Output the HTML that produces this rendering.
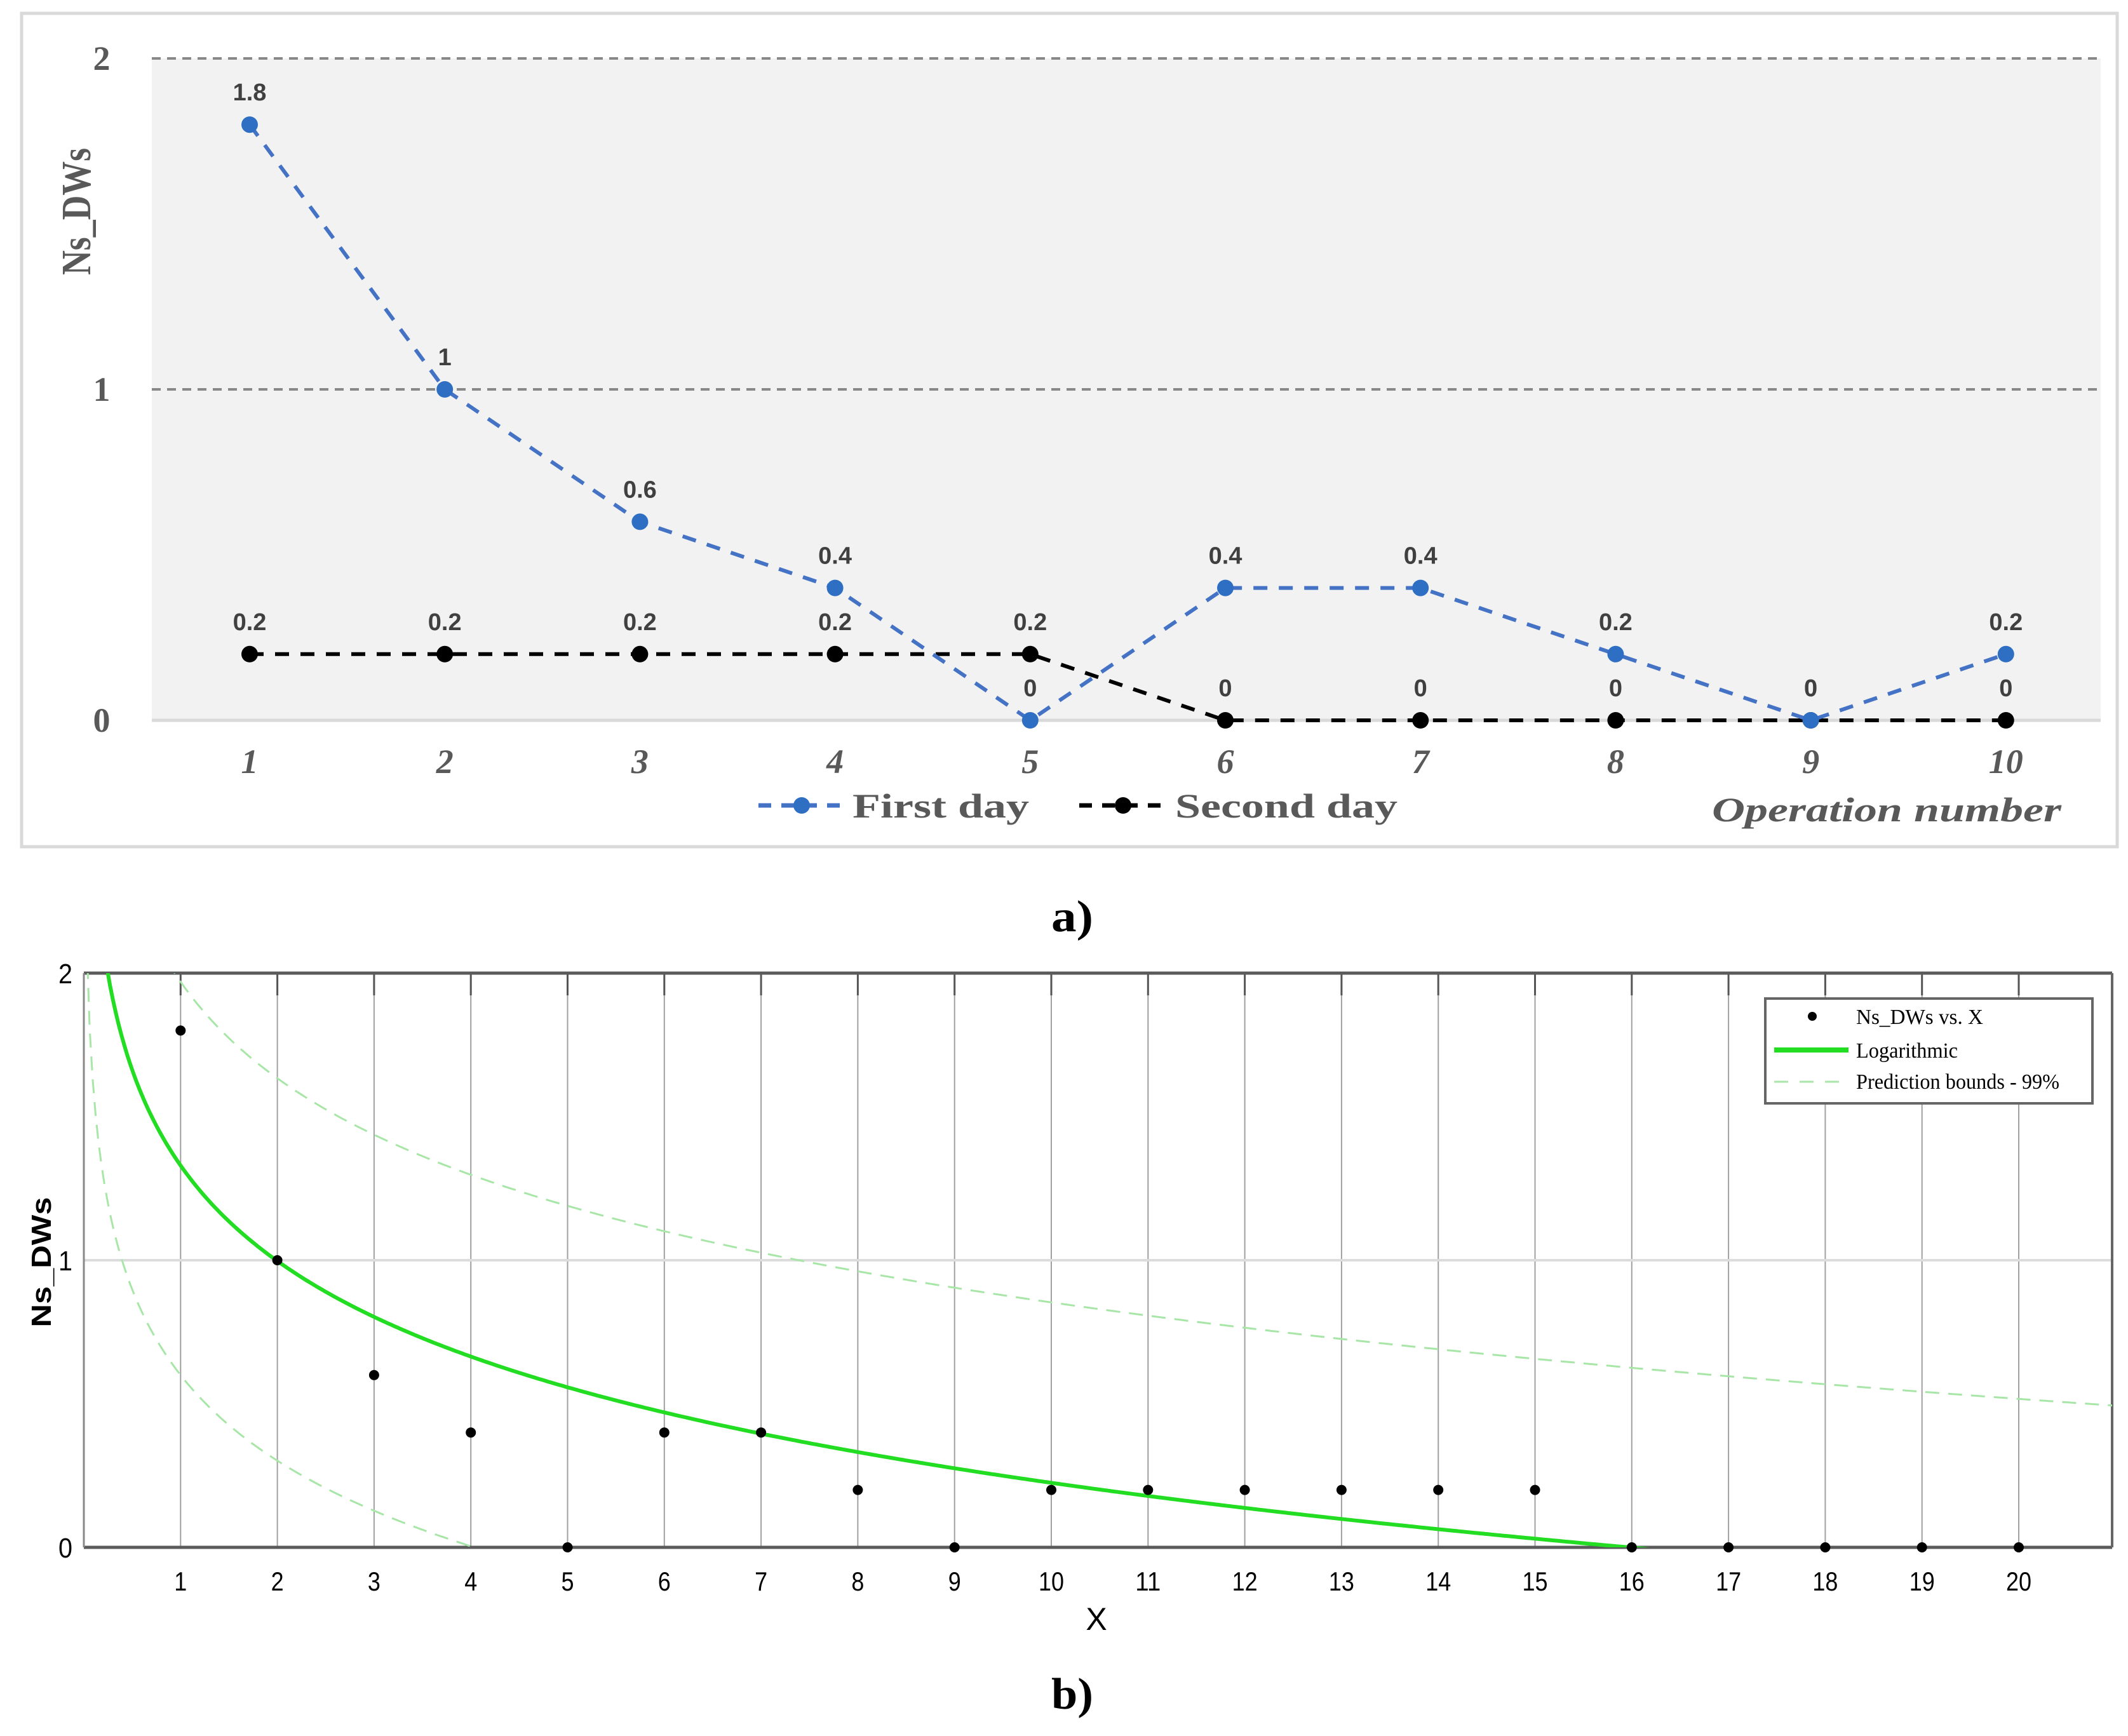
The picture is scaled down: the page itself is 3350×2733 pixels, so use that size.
<!DOCTYPE html>
<html><head><meta charset="utf-8"><style>
html,body{margin:0;padding:0;background:#fff;}
svg{display:block;}
</style></head><body>
<svg id="fig" width="3350" height="2733" viewBox="0 0 3350 2733" xmlns="http://www.w3.org/2000/svg">
  <!-- Panel a -->
  <g id="panelA">
    <rect x="34" y="21" width="3299" height="1312" fill="#fff" stroke="#d9d9d9" stroke-width="5"/>
    <rect x="239" y="92" width="3068" height="1042" fill="#f2f2f2"/>
    <text x="0" y="0" transform="translate(142,333) rotate(-90)" text-anchor="middle" font-family="Liberation Serif, serif" font-weight="bold" font-size="66" fill="#595959" textLength="200" lengthAdjust="spacingAndGlyphs">Ns_DWs</text>
    <text x="2970" y="1293" text-anchor="middle" font-family="Liberation Serif, serif" font-style="italic" font-weight="bold" font-size="54" fill="#595959" textLength="550" lengthAdjust="spacingAndGlyphs">Operation number</text>
    <g>
      <g>
        <line x1="1194" y1="1268" x2="1331" y2="1268" stroke="#4472c4" stroke-width="7" stroke-dasharray="20,16"/>
        <circle cx="1262" cy="1268" r="13" fill="#2e6fc4"/>
        <text x="1342" y="1287" font-family="Liberation Serif, serif" font-weight="bold" font-size="54" fill="#595959" textLength="278" lengthAdjust="spacingAndGlyphs">First day</text>
      </g>
      <g>
        <line x1="1699" y1="1268" x2="1836" y2="1268" stroke="#000" stroke-width="7" stroke-dasharray="20,16"/>
        <circle cx="1768" cy="1268" r="13" fill="#000"/>
        <text x="1850" y="1287" font-family="Liberation Serif, serif" font-weight="bold" font-size="54" fill="#595959" textLength="350" lengthAdjust="spacingAndGlyphs">Second day</text>
      </g>
    </g>
  </g>
  <text x="1688" y="1466" text-anchor="middle" font-family="Liberation Serif, serif" font-weight="bold" font-size="70" fill="#000" textLength="66" lengthAdjust="spacingAndGlyphs">a)</text>

  <!-- Panel b -->
  <g id="panelB">
    <rect x="132" y="1532" width="3193" height="904" fill="#fff"/>
    <text x="0" y="0" transform="translate(80,1987) rotate(-90)" text-anchor="middle" font-family="Liberation Sans, sans-serif" font-weight="bold" font-size="44" fill="#000" textLength="205" lengthAdjust="spacingAndGlyphs">Ns_DWs</text>
    <text x="1726" y="2566" text-anchor="middle" font-family="Liberation Sans, sans-serif" font-size="50" fill="#000">X</text>
  </g>
  <text x="1688" y="2690" text-anchor="middle" font-family="Liberation Serif, serif" font-weight="bold" font-size="70" fill="#000" textLength="66" lengthAdjust="spacingAndGlyphs">b)</text>
</svg>
<script>
// ---- Panel a data ----
const catsA = [1,2,3,4,5,6,7,8,9,10];
const firstDay = [1.8,1,0.6,0.4,0,0.4,0.4,0.2,0,0.2];
const secondDay = [0.2,0.2,0.2,0.2,0.2,0,0,0,0,0];
const yTicksA = [0,1,2];
// ---- Panel b data ----
const catsB = [1,2,3,4,5,6,7,8,9,10,11,12,13,14,15,16,17,18,19,20];
const obsB = [1.8,1,0.6,0.4,0,0.4,0.4,0.2,0,0.2,0.2,0.2,0.2,0.2,0.2,0,0,0,0,0];
const yTicksB = [0,1,2];
const fitCoef = [1.33,0.48];     // y = a - b*ln(x)
const upperCoef = [1.97,0.485];
const lowerCoef = [0.60,0.43];

const NS='http://www.w3.org/2000/svg';
const svg=document.getElementById('fig');
const gA=document.getElementById('panelA');
const gB=document.getElementById('panelB');
function mk(tag,attrs,parent){const e=document.createElementNS(NS,tag);for(const k in attrs)e.setAttribute(k,attrs[k]);(parent||svg).appendChild(e);return e;}

// Axis functions a
const xA=i=>393+(i-1)*307.2;
const yA=v=>1134-v*521;
yTicksA.forEach(t=>{
  let l;
  if(t===0){l=mk('line',{x1:239,x2:3307,y1:yA(t),y2:yA(t),stroke:'#d9d9d9','stroke-width':5},gA);}
  else{l=mk('line',{x1:239,x2:3307,y1:yA(t),y2:yA(t),stroke:'#888','stroke-width':4,'stroke-dasharray':'14,10'},gA);}
  
  
  const tx=mk('text',{x:160,y:yA(t)+18,'text-anchor':'middle','font-family':'Liberation Serif, serif','font-weight':'bold','font-size':54,fill:'#595959'},gA);
  tx.textContent=t;
  
  
});
catsA.forEach(c=>{
  const tx=mk('text',{x:xA(c),y:1217,'text-anchor':'middle','font-family':'Liberation Serif, serif','font-style':'italic','font-weight':'bold','font-size':54,fill:'#595959'},gA);
  tx.textContent=c;
  
  
});
function series(vals,color,mcolor,name){
  const pts=vals.map((v,i)=>xA(catsA[i])+','+yA(v)).join(' ');
  const pl=mk('polyline',{points:pts,fill:'none',stroke:color,'stroke-width':6,'stroke-dasharray':'22,18'},gA);
  
  
  vals.forEach((v,i)=>{
    const c=mk('circle',{cx:xA(catsA[i]),cy:yA(v),r:13,fill:mcolor},gA);
    
    
    const t=mk('text',{x:xA(catsA[i]),y:yA(v)-38,'text-anchor':'middle','font-family':'Liberation Sans, sans-serif','font-weight':'bold','font-size':38,fill:'#404040'},gA);
    t.textContent=v;
    
    
  });
}
series(secondDay,'#000','#000','second-day');
series(firstDay,'#4472c4','#2e6fc4','first-day');

// Axis functions b
const X0=132,X1=3325,Y0=2436,Y1=1532;
const xB=x=>132+x*152.3;
const yB=v=>2436-v*452;
catsB.forEach(c=>{
  const l=mk('line',{x1:xB(c),x2:xB(c),y1:Y1,y2:Y0,stroke:'#a0a0a0','stroke-width':2},gB);
  
  
  const tk=mk('line',{x1:xB(c),x2:xB(c),y1:Y1,y2:Y1+35,stroke:'#555','stroke-width':3},gB);
  
  
  const t=mk('text',{x:xB(c),y:2504,'text-anchor':'middle','font-family':'Liberation Sans, sans-serif','font-size':42,fill:'#000'},gB);
  t.textContent=c;
  t.setAttribute('textLength', c>9?40:20);
  t.setAttribute('lengthAdjust','spacingAndGlyphs');
  
  
});
yTicksB.forEach(t=>{
  let l;
  if(t===1) l=mk('line',{x1:X0,x2:X1,y1:yB(t),y2:yB(t),stroke:'#dcdcdc','stroke-width':4},gB);
  else l=mk('line',{x1:X0,x2:X1,y1:yB(t),y2:yB(t),stroke:'#5a5a5a','stroke-width':5},gB);
  
  
  const tx=mk('text',{x:103,y:yB(t)+16,'text-anchor':'middle','font-family':'Liberation Sans, sans-serif','font-size':44,fill:'#000'},gB);
  tx.textContent=t;
  tx.setAttribute('textLength',22);
  tx.setAttribute('lengthAdjust','spacingAndGlyphs');
  
  
});
const le=mk('line',{x1:X0,x2:X0,y1:Y1,y2:Y0,stroke:'#888','stroke-width':3},gB);


const re=mk('line',{x1:X1,x2:X1,y1:Y1,y2:Y0,stroke:'#666','stroke-width':4},gB);



const defs=mk('defs',{});
const cp=mk('clipPath',{id:'clipB'},defs);
mk('rect',{x:X0,y:Y1,width:X1-X0,height:Y0-Y1},cp);
function logCurve(coef,attrs,name){
  let d='';
  for(let x=0.03;x<=21.0;x+=0.03){
    const v=coef[0]-coef[1]*Math.log(x);
    d+=(d?'L':'M')+xB(x).toFixed(1)+','+yB(v).toFixed(1);
  }
  const p=mk('path',Object.assign({d:d,fill:'none','clip-path':'url(#clipB)'},attrs),gB);
  
  
}
logCurve(upperCoef,{stroke:'#a8e6a8','stroke-width':3,'stroke-dasharray':'22,14'},'upper-prediction-bound');
logCurve(lowerCoef,{stroke:'#a8e6a8','stroke-width':3,'stroke-dasharray':'22,14'},'lower-prediction-bound');
logCurve(fitCoef,{stroke:'#22dd22','stroke-width':6},'logarithmic-fit');
obsB.forEach((v,i)=>{
  const c=mk('circle',{cx:xB(catsB[i]),cy:yB(v),r:8,fill:'#000'},gB);
  
  
});
const lg=mk('g',{},gB);


const lr=mk('rect',{x:2779,y:1572,width:515,height:165,fill:'#fff',stroke:'#666','stroke-width':4},lg);


const ld=mk('circle',{cx:2853,cy:1600,r:7,fill:'#000'},lg);


const ll=mk('line',{x1:2793,x2:2910,y1:1653,y2:1653,stroke:'#22dd22','stroke-width':8},lg);


const lb=mk('line',{x1:2793,x2:2910,y1:1703,y2:1703,stroke:'#a8e6a8','stroke-width':3,'stroke-dasharray':'22,18'},lg);


[['Ns_DWs vs. X',1612,200,'legend-label-observations'],['Logarithmic',1665,160,'legend-label-logarithmic'],['Prediction bounds - 99%',1714,320,'legend-label-prediction-bounds']].forEach(a=>{
  const t=mk('text',{x:2922,y:a[1],'font-family':'Liberation Serif, serif','font-size':34,fill:'#000',textLength:a[2],lengthAdjust:'spacingAndGlyphs'},lg);
  t.textContent=a[0];
  
  
});
</script>
</body></html>
